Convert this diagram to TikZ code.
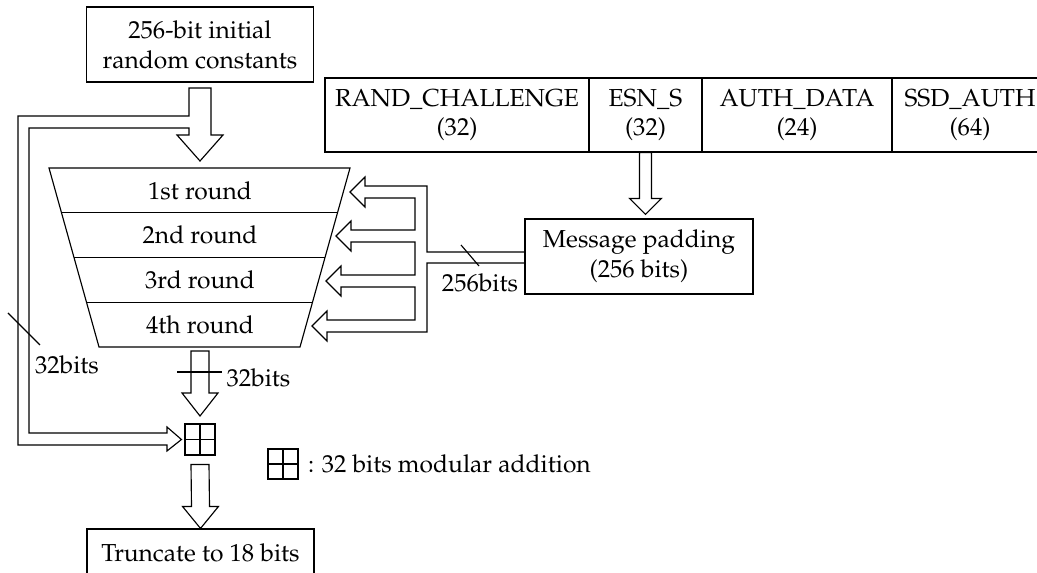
\documentclass[tikz,border=0pt]{standalone}
\usepackage[T1]{fontenc}
\usepackage{mathpazo}
\usetikzlibrary{calc}

% hollow block arrow pointing down: from top point #1 to tip #2,
% shaft half width #3, head half width #4, head length #5
\newcommand{\hollowdown}[5]{%
  \draw ($#1+(-#3,0)$) -- ($#2+(-#3,-#5)$) -- ($#2+(-#4,-#5)$) -- #2
    -- ($#2+(#4,-#5)$) -- ($#2+(#3,-#5)$) -- ($#1+(#3,0)$) -- cycle;}

\begin{document}
\begin{tikzpicture}[x=0.02cm, y=-0.02cm, line width=0.65pt,
  box/.style={draw, inner sep=0pt, align=center, font=\fontsize{14}{17}\selectfont},
  lbl/.style={inner sep=0pt, align=center, font=\fontsize{14}{17}\selectfont}]

\useasboundingbox (0,0) rectangle (1037,573);

% Inputs
\node[box, minimum width=4.54cm, minimum height=1.5cm] (init) at (200,44.5) {256-bit initial\\random constants};
\node[box, minimum width=5.28cm, minimum height=1.48cm] (rc) at (457,115) {RAND\_CHALLENGE\\(32)};
\node[box, minimum width=2.26cm, minimum height=1.48cm] (esn) at (645.5,115) {ESN\_S\\(32)};
\node[box, minimum width=3.8cm, minimum height=1.48cm] (auth) at (797,115) {AUTH\_DATA\\(24)};
\node[box, minimum width=3.12cm, minimum height=1.48cm] (ssd) at (970,115) {SSD\_AUTH\\(64)};
\node[box, minimum width=4.56cm, minimum height=1.5cm] (pad) at (639,256.5) {Message padding\\(256 bits)};

% Rounds
\coordinate (tl) at (49,168);
\coordinate (tr) at (350,168);
\coordinate (bl) at (99,347);
\coordinate (br) at (300,347);
\draw (tl) -- (tr) -- (br) -- (bl) -- cycle;
\foreach \f in {0.25,0.5,0.75}
  \draw ($(tl)!\f!(bl)$) -- ($(tr)!\f!(br)$);
\node[lbl] (r1) at (200,190.5) {1st round};
\node[lbl] (r2) at (200,235) {2nd round};
\node[lbl] (r3) at (200,279.5) {3rd round};
\node[lbl] (r4) at (200,324.5) {4th round};

% Addition and output
\node[box, minimum width=0.6cm, minimum height=0.62cm] (add) at (200,439.5) {};
\draw (add.north) -- (add.south) (add.west) -- (add.east);
\node[box, minimum width=4.54cm, minimum height=1.2cm, text depth=0.27cm] (trunc) at (200.5,559) {Truncate to 18 bits};

% Legend
\node[box, minimum size=0.6cm] (key) at (283,464) {};
\draw (key.north) -- (key.south) (key.west) -- (key.east);
\node[lbl, anchor=west] (keytxt) at ($(key.east)+(9,0)$) {: 32 bits modular addition};

% Top arrow with feedback branch
\draw (189,116) -- (189,88) -- (211,88) -- (211,135) -- (223,135) -- (200,161)
  -- (177,135) -- (189,135) -- (189,128) -- (29,128) -- (29,433) -- (167,433)
  -- (167,427) -- ($(add.west)+(-3,0)$) -- (167,451) -- (167,445) -- (18,445)
  -- (18,116) -- cycle;
\draw (8,313) -- (40,345);
\node[lbl] (fb) at (67,365) {32bits};

% Round outputs
\hollowdown{(200,351)}{(200,416)}{9}{18}{23}
\draw (177,372) -- (222,372);
\node[lbl, anchor=west] (out) at (226,378) {32bits};
\hollowdown{($(add.south)+(0,9)$)}{(trunc.north)}{9}{18}{22}

% Message path
\coordinate (esnin) at ($(esn.south |- pad.north)+(0,-4)$);
\hollowdown{(esn.south)}{(esnin)}{6}{16}{16}
\draw (pad.west |- 0,252) -- (427,252) -- (427,186) -- (365,186) -- (365,177)
  -- (350,192) -- (365,207) -- (365,198) -- (415,198) -- (415,230) -- (351,230)
  -- (351,221) -- (336,236) -- (351,251) -- (351,242) -- (415,242) -- (415,275)
  -- (341,275) -- (341,266) -- (326,281) -- (341,296) -- (341,287) -- (415,287)
  -- (415,320) -- (327,320) -- (327,311) -- (312,326) -- (327,341) -- (327,332)
  -- (427,332) -- (427,263) -- (pad.west |- 0,263);
\draw (461,245) -- (479,266);
\node[lbl] (bus) at (480,283) {256bits};

\end{tikzpicture}
\end{document}
